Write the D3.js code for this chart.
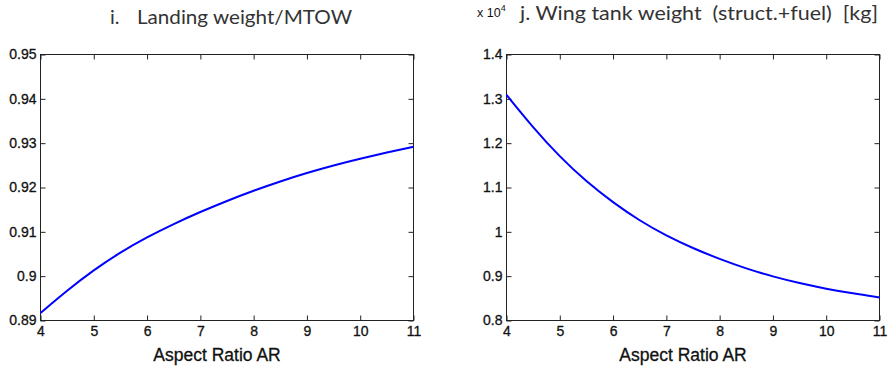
<!DOCTYPE html>
<html><head><meta charset="utf-8">
<script src="https://cdn.jsdelivr.net/npm/d3@7"></script>
<style>
body{margin:0;background:#fff}
text{font-family:"Liberation Sans",Arial,sans-serif}
</style>
</head><body>
<svg id="c" width="889" height="368"></svg>
<script>
// ---- data ----
const aspectRatio = [4, 4.5, 5, 5.5, 6, 6.5, 7, 7.5, 8, 8.5, 9, 9.5, 10, 10.5, 11];
const landingOverMTOW = [0.8917, 0.8968, 0.9014, 0.9054, 0.9088, 0.9118, 0.9145, 0.9170, 0.9193, 0.9214, 0.9233, 0.9250, 0.9265, 0.9279, 0.9292];
const wingTankWeightKg = [13090, 12350, 11690, 11130, 10660, 10250, 9910, 9630, 9385, 9170, 8990, 8840, 8715, 8610, 8521];
const xTickValues = [4, 5, 6, 7, 8, 9, 10, 11];
const leftYTicks = [0.89, 0.90, 0.91, 0.92, 0.93, 0.94, 0.95];
const rightYTicks = [8000, 9000, 10000, 11000, 12000, 13000, 14000];
const leftTitleIndex = "i.";
const leftTitle = "Landing weight/MTOW";
const rightTitle = "j. Wing tank weight  (struct.+fuel)  [kg]";
const xLabel = "Aspect Ratio AR";

const svg = d3.select("#c");

function panel(cfg) {
  const x = d3.scaleLinear().domain([4, 11]).range([cfg.x0, cfg.x1]);
  const y = d3.scaleLinear().domain(cfg.yDomain).range([cfg.y1, cfg.y0]);
  const g = svg.append("g");
  const tick = 5;
  const styleAxis = sel => {
    sel.select(".domain").remove();
    sel.selectAll(".tick line").attr("stroke", "#222");
    sel.selectAll(".tick text").attr("fill", "#111").style("font-size", "14px")
      .attr("stroke", "#111").attr("stroke-width", 0.3)
      .style("font-family", '"Liberation Sans", Arial, sans-serif');
  };
  g.append("g").attr("transform", `translate(0,${cfg.y1})`)
    .call(d3.axisBottom(x).tickValues(xTickValues).tickSize(-tick).tickPadding(6).tickFormat(d3.format("d")))
    .call(styleAxis);
  g.append("g").attr("transform", `translate(0,${cfg.y0})`)
    .call(d3.axisTop(x).tickValues(xTickValues).tickSize(-tick).tickFormat(""))
    .call(styleAxis);
  g.append("g").attr("transform", `translate(${cfg.x0},0)`)
    .call(d3.axisLeft(y).tickValues(cfg.yTicks).tickSize(-tick).tickPadding(4).tickFormat(cfg.yFmt))
    .call(styleAxis);
  g.append("g").attr("transform", `translate(${cfg.x1},0)`)
    .call(d3.axisRight(y).tickValues(cfg.yTicks).tickSize(-tick).tickFormat(""))
    .call(styleAxis);
  g.append("rect").attr("x", cfg.x0).attr("y", cfg.y0)
    .attr("width", cfg.x1 - cfg.x0).attr("height", cfg.y1 - cfg.y0)
    .attr("fill", "none").attr("stroke", "#222").attr("stroke-width", 1);
  const line = d3.line().x((d, i) => x(aspectRatio[i])).y(d => y(d)).curve(d3.curveBasis);
  g.append("path").datum(cfg.values).attr("d", line)
    .attr("fill", "none").attr("stroke", "#0000ff").attr("stroke-width", 2);
  g.append("text").attr("x", (cfg.x0 + cfg.x1) / 2 - 10).attr("y", 361)
    .attr("text-anchor", "middle").style("font-size", "17.5px").attr("fill", "#111")
    .attr("stroke", "#111").attr("stroke-width", 0.3).text(xLabel);
  return {x, y, g};
}

panel({x0: 40.5, x1: 413.5, y0: 54.5, y1: 320.5, yDomain: [0.89, 0.95], yTicks: leftYTicks,
       yFmt: d => d3.format("")(+d.toFixed(2)), values: landingOverMTOW});
panel({x0: 506.5, x1: 879.5, y0: 54.5, y1: 320.5, yDomain: [8000, 14000], yTicks: rightYTicks,
       yFmt: d => d3.format("")(+(d / 1e4).toFixed(1)), values: wingTankWeightKg});

// multiplier label
const mult = svg.append("text").attr("x", 477).attr("y", 17).style("font-size", "12.5px").attr("fill", "#111");
mult.append("tspan").text("x 10");
mult.append("tspan").attr("dy", -6).style("font-size", "9px").text("4");

// titles
const titleFont = 'Lato, "Open Sans", sans-serif';
svg.append("text").attr("x", 110).attr("y", 24).style("font-family", titleFont).style("font-size", "20px")
  .attr("fill", "#333").text(leftTitleIndex);
svg.append("text").attr("x", 137).attr("y", 24).style("font-family", titleFont).style("font-size", "20px")
  .attr("fill", "#333").attr("textLength", 215).attr("lengthAdjust", "spacingAndGlyphs").text(leftTitle);
svg.append("text").attr("x", 520).attr("y", 19.5).style("font-family", titleFont).style("font-size", "19px")
  .style("white-space", "pre").attr("xml:space", "preserve")
  .attr("fill", "#333").attr("textLength", 358).attr("lengthAdjust", "spacingAndGlyphs").text(rightTitle);
</script>
</body></html>
